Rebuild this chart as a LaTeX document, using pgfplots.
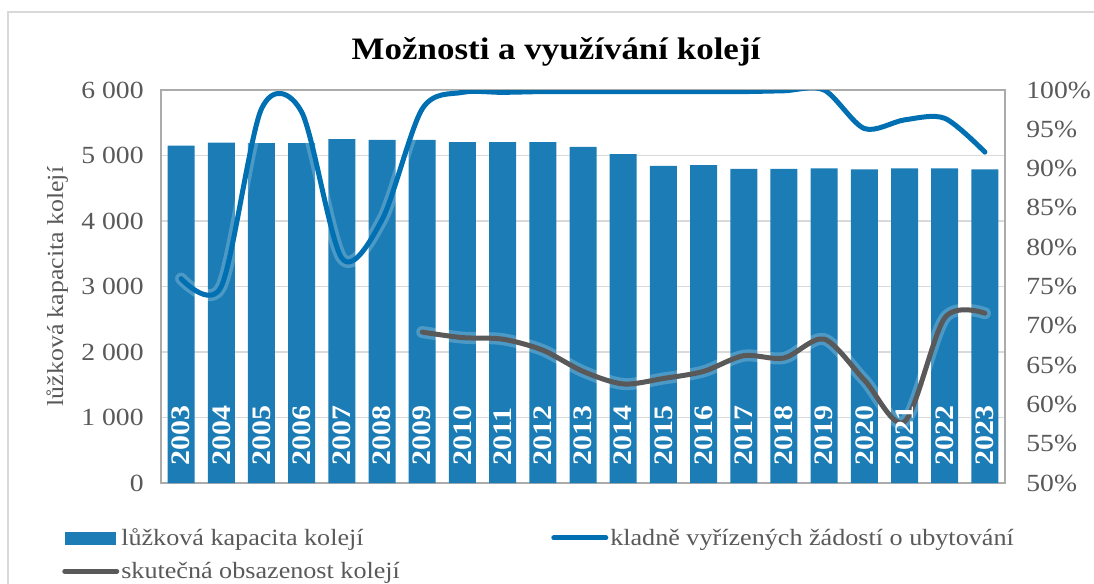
\documentclass[border=0pt]{standalone}
\usepackage{fontspec}
\setmainfont{Liberation Serif}[FakeStretch=1.12]
\usepackage{pgfplots}
\pgfplotsset{compat=1.18}
\definecolor{barblue}{HTML}{1C7DB6}
\definecolor{lineblue}{HTML}{0070B3}
\definecolor{linegray}{HTML}{595959}
\definecolor{tickgray}{HTML}{595959}
\definecolor{gridgray}{HTML}{D9D9D9}
\definecolor{framegray}{HTML}{ABABAB}
\definecolor{outergray}{HTML}{D9D9D9}
\begin{document}
\begin{tikzpicture}
\useasboundingbox (0,0) rectangle (820.5pt,437.25pt);
\draw[outergray, line width=1pt] (6pt,-5pt) -- (6pt,428.25pt) -- (830pt,428.25pt);
\node[anchor=base, font=\bfseries\fontsize{23.4}{28}\selectfont] at (417pt,392.8pt) {Možnosti a využívání kolejí};

\begin{axis}[
  at={(120.75pt,75pt)}, anchor=south west, scale only axis,
  width=633pt, height=294.75pt,
  xmin=-0.5, xmax=20.5, ymin=0, ymax=6000,
  xtick=\empty,
  ytick={0,1000,2000,3000,4000,5000,6000},
  yticklabels={0,1~000,2~000,3~000,4~000,5~000,6~000},
  major tick length=0pt,
  ymajorgrids, grid style={gridgray, line width=0.9pt},
  axis line style={framegray, line width=1.4pt},
  yticklabel style={text=tickgray, font=\fontsize{18.5}{20}\selectfont, xshift=-9.5pt},
  ylabel={lůžková kapacita kolejí},
  ylabel style={at={(axis description cs:-0.123,0.5)}, anchor=center, text=tickgray, font=\fontsize{17.3}{20}\selectfont},
]
\addplot[ybar, bar width=20.25pt, fill=barblue, draw=none] coordinates {
(0,5150) (1,5195) (2,5190) (3,5190) (4,5252) (5,5237) (6,5237) (7,5206) (8,5206) (9,5206)
(10,5130) (11,5023) (12,4840) (13,4855) (14,4794) (15,4794) (16,4804) (17,4789) (18,4804) (19,4804) (20,4789)};
\end{axis}

\begin{axis}[
  at={(120.75pt,75pt)}, anchor=south west, scale only axis,
  width=633pt, height=294.75pt,
  xmin=-0.5, xmax=20.5, ymin=50, ymax=100,
  hide x axis, axis y line*=right,
  ytick={50,55,60,65,70,75,80,85,90,95,100},
  yticklabels={50\%,55\%,60\%,65\%,70\%,75\%,80\%,85\%,90\%,95\%,100\%},
  major tick length=0pt,
  axis line style={framegray, line width=1.4pt},
  yticklabel style={text=tickgray, font=\fontsize{18.5}{20}\selectfont, xshift=12.5pt},
  legend columns=2, legend cell align=left,
  legend style={at={(axis description cs:-0.1173,-0.11)}, anchor=north west, draw=none, fill=none, inner sep=0pt,
    text=tickgray, font=\fontsize{17.5}{20}\selectfont, row sep=8pt, nodes={inner sep=1.5pt},
    /tikz/every even column/.append style={column sep=112pt}},
]
\addlegendimage{legend image code/.code={\fill[barblue] (0pt,-4.5pt) rectangle (37.5pt,4.5pt);}}
\addlegendentry{lůžková kapacita kolejí}
\addplot[white, opacity=0.22, line width=9pt, smooth, tension=0.5, line cap=round, line join=round, forget plot] coordinates {
(0,76.0) (1,75.0) (2,97.6) (3,97.2) (4,78.6) (5,83.5) (6,97.6) (7,99.7) (8,99.7) (9,99.8)
(10,99.8) (11,99.8) (12,99.8) (13,99.8) (14,99.8) (15,99.9) (16,100) (17,95.1) (18,96.2) (19,96.4) (20,92.1)};
\addplot[lineblue, line width=3.75pt, smooth, tension=0.5, line cap=round, line join=round,
  legend image code/.code={\draw[lineblue, line width=3.75pt, line cap=round] (0pt,0pt) -- (39pt,0pt);}] coordinates {
(0,76.0) (1,75.0) (2,97.6) (3,97.2) (4,78.6) (5,83.5) (6,97.6) (7,99.7) (8,99.7) (9,99.8)
(10,99.8) (11,99.8) (12,99.8) (13,99.8) (14,99.8) (15,99.9) (16,100) (17,95.1) (18,96.2) (19,96.4) (20,92.1)};
\addlegendentry{kladně vyřízených žádostí o ubytování}
\addplot[white, opacity=0.22, line width=9pt, smooth, tension=0.5, line cap=round, line join=round, forget plot] coordinates {
(6,69.2) (7,68.5) (8,68.3) (9,66.9) (10,64.2) (11,62.6) (12,63.3) (13,64.2) (14,66.2) (15,65.9)
(16,68.3) (17,63.1) (18,57.8) (19,71.0) (20,71.6)};
\addplot[linegray, line width=3.75pt, smooth, tension=0.5, line cap=round, line join=round,
  legend image code/.code={\draw[linegray, line width=3.75pt, line cap=round] (0pt,0pt) -- (39pt,0pt);}] coordinates {
(6,69.2) (7,68.5) (8,68.3) (9,66.9) (10,64.2) (11,62.6) (12,63.3) (13,64.2) (14,66.2) (15,65.9)
(16,68.3) (17,63.1) (18,57.8) (19,71.0) (20,71.6)};
\addlegendentry{skutečná obsazenost kolejí}
\addplot[draw=none, forget plot, nodes near coords, point meta=explicit symbolic,
  nodes near coords style={rotate=90, anchor=west, inner sep=0pt, text=white, font=\bfseries\fontsize{20}{20}\selectfont}]
  coordinates {
(0,52.16) [2003] (1,52.16) [2004] (2,52.16) [2005] (3,52.16) [2006] (4,52.16) [2007] (5,52.16) [2008]
(6,52.16) [2009] (7,52.16) [2010] (8,52.16) [2011] (9,52.16) [2012] (10,52.16) [2013] (11,52.16) [2014]
(12,52.16) [2015] (13,52.16) [2016] (14,52.16) [2017] (15,52.16) [2018] (16,52.16) [2019] (17,52.16) [2020]
(18,52.16) [2021] (19,52.16) [2022] (20,52.16) [2023]};
\end{axis}
\end{tikzpicture}
\end{document}
